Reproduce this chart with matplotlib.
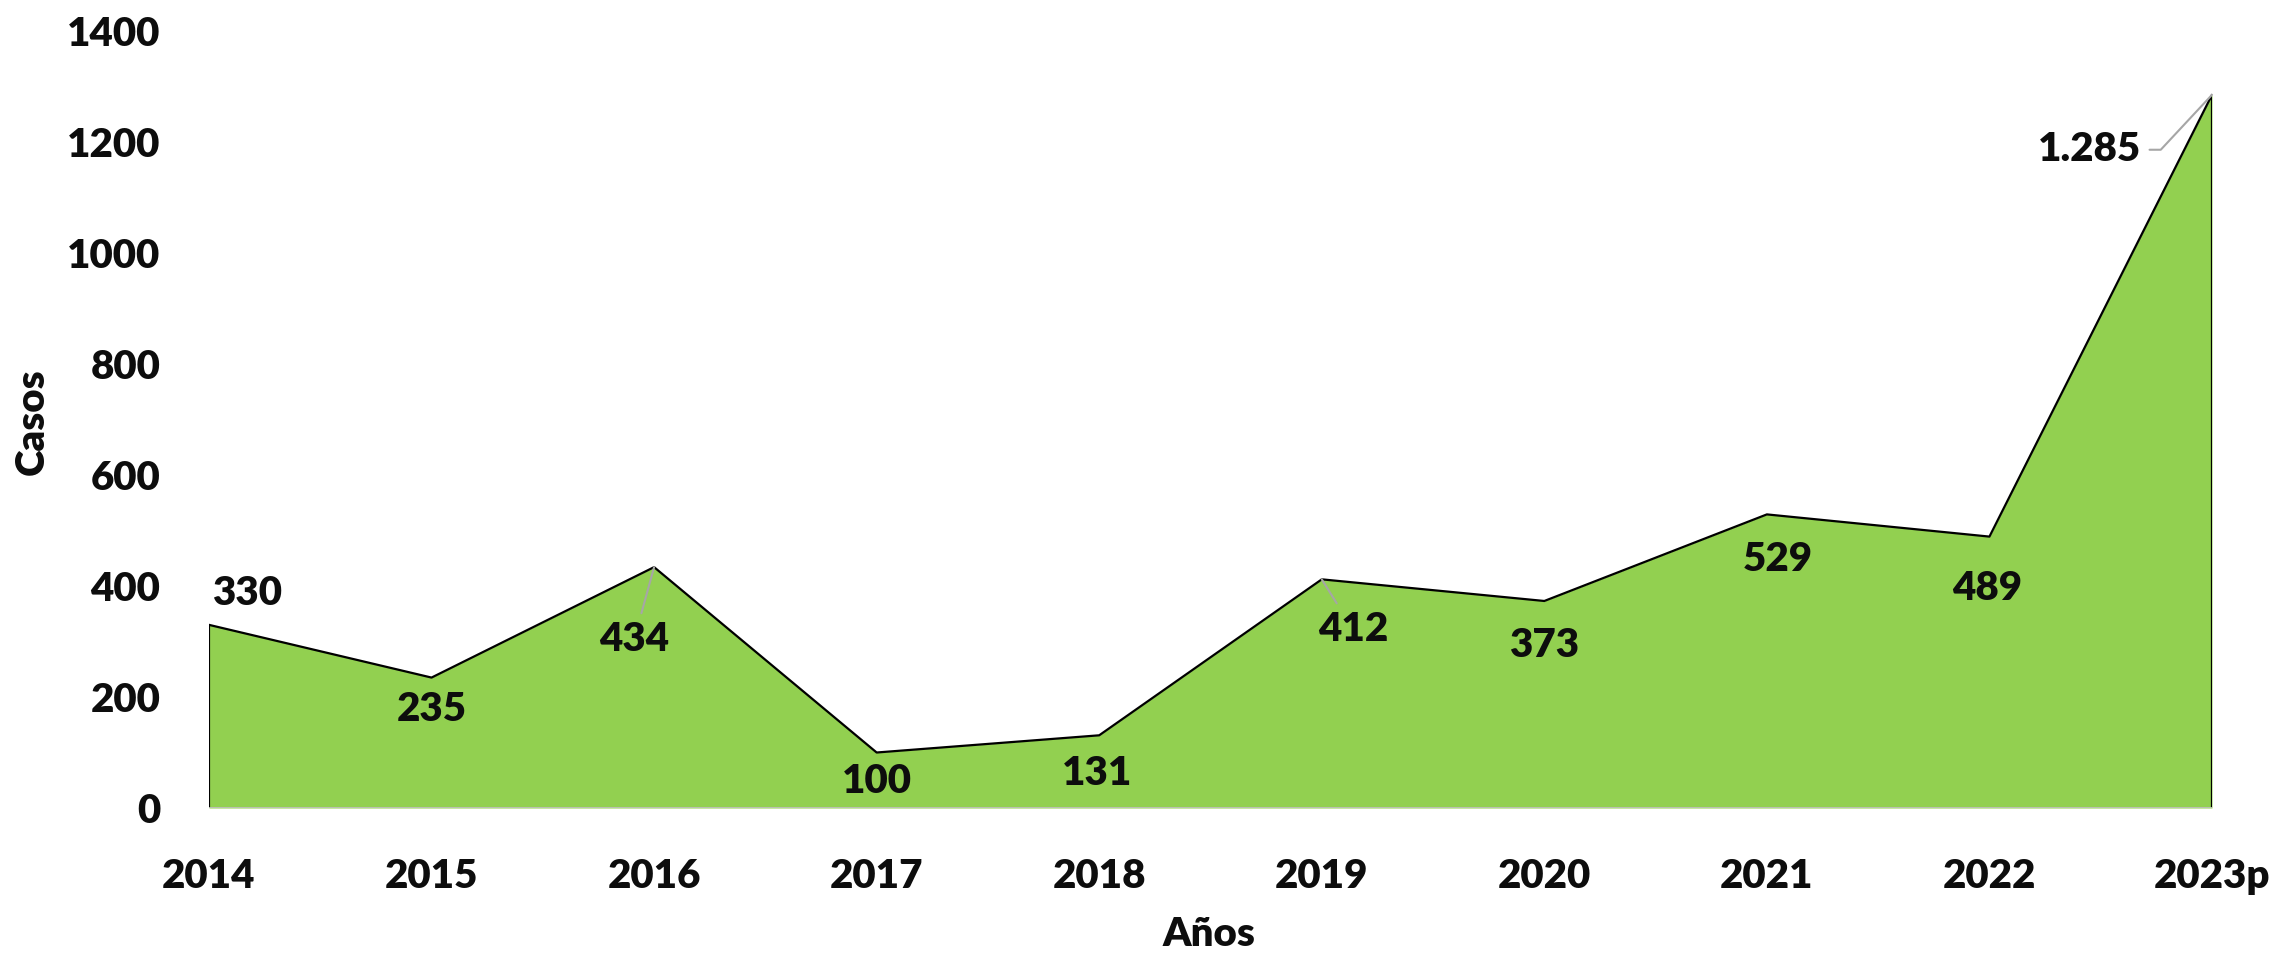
import matplotlib
matplotlib.use("Agg")
import matplotlib.pyplot as plt

# datos
anios = ["2014", "2015", "2016", "2017", "2018", "2019", "2020", "2021", "2022", "2023p"]
casos = [330, 235, 434, 100, 131, 412, 373, 529, 489, 1285]
# posicion de las etiquetas (en unidades de los ejes)
lab_x = [0.17, 1.0, 1.91, 3.0, 3.99, 5.14, 6.0, 7.05, 7.99, 8.45]
lab_y = [387, 178, 303, 47, 63, 322, 293, 447, 395, 1186]
con_linea = [False, False, True, False, False, True, False, False, False, True]

PESO = "heavy"
plt.rcParams['font.family'] = ['Lato', 'DejaVu Sans']
plt.rcParams['font.weight'] = PESO

fig = plt.figure(figsize=(22.79, 9.56), dpi=100)
ax = fig.add_axes([0.0917, 0.1548, 0.8789, 0.8128])

x = list(range(len(anios)))
ax.fill_between(x, casos, 0, color="#92D050", linewidth=0)
ax.plot([0] + x + [x[-1]], [0] + casos + [0], color="black", lw=1.6)
ax.axhline(0, color="#BFBFBF", lw=2)

for i in range(len(casos)):
    txt = "{:,}".format(casos[i]).replace(",", ".")
    if con_linea[i]:
        if i == len(casos) - 1:
            cs = "angle,angleA=0,angleB=47,rad=0"
        else:
            cs = "arc3"
        ax.annotate(txt, xy=(i, casos[i]), xytext=(lab_x[i], lab_y[i]),
                    ha="center", va="center", fontsize=29, fontweight=PESO, color="#0D0D0D",
                    arrowprops=dict(arrowstyle="-", color="#A6A6A6", lw=1.5,
                                    connectionstyle=cs, shrinkA=4, shrinkB=0))
    else:
        ax.text(lab_x[i], lab_y[i], txt, ha="center", va="center",
                fontsize=29, fontweight=PESO, color="#0D0D0D")

ax.set_xlim(0, 9)
ax.set_ylim(0, 1400)
ax.set_yticks(range(0, 1401, 200))
ax.set_xticks(x)
ax.set_xticklabels(anios)
ax.tick_params(length=0, labelsize=29, colors="#0D0D0D")
ax.tick_params(axis="x", pad=36)
ax.tick_params(axis="y", pad=35)
for s in ax.spines.values():
    s.set_visible(False)

fig.text(32 / 2279, 1 - 422 / 956, "Casos", rotation=90, ha="center", va="center",
         fontsize=29, fontweight=PESO, color="#0D0D0D")
fig.text(1209 / 2279, 1 - 935 / 956, "Años", ha="center", va="center",
         fontsize=29, fontweight=PESO, color="#0D0D0D")

fig.savefig("out.png", dpi=100)
